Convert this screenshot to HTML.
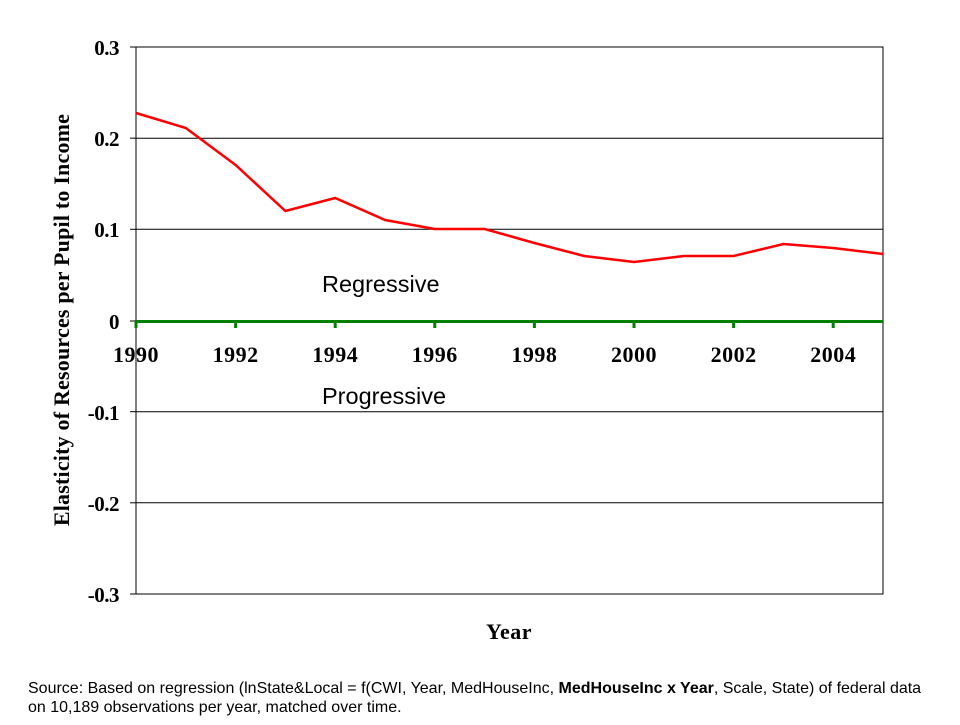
<!DOCTYPE html>
<html><head><style>body{margin:0;background:#fff}</style></head><body>
<svg width="960" height="720" xmlns="http://www.w3.org/2000/svg" font-family="Liberation Serif, serif">
<rect width="960" height="720" fill="#fff"/>
<rect x="136" y="47" width="747" height="547" fill="none" stroke="#000" stroke-width="1"/>
<g stroke="#000" stroke-width="1">
<line x1="136" y1="138.2" x2="883" y2="138.2"/>
<line x1="136" y1="229.3" x2="883" y2="229.3"/>
<line x1="136" y1="411.7" x2="883" y2="411.7"/>
<line x1="136" y1="502.8" x2="883" y2="502.8"/>
<line x1="130" y1="47" x2="136" y2="47"/><line x1="130" y1="138.2" x2="136" y2="138.2"/><line x1="130" y1="229.3" x2="136" y2="229.3"/><line x1="130" y1="321" x2="136" y2="321"/><line x1="130" y1="411.7" x2="136" y2="411.7"/><line x1="130" y1="502.8" x2="136" y2="502.8"/><line x1="130" y1="594" x2="136" y2="594"/>
</g>
<line x1="136" y1="321.5" x2="883" y2="321.5" stroke="#008000" stroke-width="3"/>
<g stroke="#008000" stroke-width="3">
<line x1="136" y1="321" x2="136" y2="328"/><line x1="235.6" y1="321" x2="235.6" y2="328"/><line x1="335.2" y1="321" x2="335.2" y2="328"/><line x1="434.8" y1="321" x2="434.8" y2="328"/><line x1="534.4" y1="321" x2="534.4" y2="328"/><line x1="634" y1="321" x2="634" y2="328"/><line x1="733.6" y1="321" x2="733.6" y2="328"/><line x1="833.2" y1="321" x2="833.2" y2="328"/>
</g>
<polyline fill="none" stroke="#ff0000" stroke-width="2.5" points="136,113 185.8,128 235.6,165 285.4,211 335.2,198 385,220 434.8,229 484.6,229 534.4,243 584.2,256 634,262 683.8,256 733.6,256 783.4,244 833.2,248 883,254"/>
<g font-size="21" font-weight="bold" text-anchor="end" letter-spacing="-0.5">
<text x="119" y="55">0.3</text><text x="119" y="146">0.2</text><text x="119" y="237">0.1</text><text x="119" y="329">0</text><text x="119" y="420">-0.1</text><text x="119" y="511">-0.2</text><text x="119" y="602">-0.3</text>
</g>
<g font-size="22" font-weight="bold" text-anchor="middle" letter-spacing="0.5">
<text x="136" y="362">1990</text><text x="235.6" y="362">1992</text><text x="335.2" y="362">1994</text><text x="434.8" y="362">1996</text><text x="534.4" y="362">1998</text><text x="634" y="362">2000</text><text x="733.6" y="362">2002</text><text x="833.2" y="362">2004</text>
<text x="509" y="639">Year</text>
<text transform="translate(69,320) rotate(-90)" font-size="22" letter-spacing="0.2">Elasticity of Resources per Pupil to Income</text>
</g>
<g font-family="Liberation Sans, sans-serif" font-size="23.5">
<text x="322" y="292">Regressive</text>
<text x="322" y="404">Progressive</text>
</g>
<g font-family="Liberation Sans, sans-serif" font-size="16">
<text x="28" y="693">Source: Based on regression (lnState&amp;Local = f(CWI, Year, MedHouseInc, <tspan font-weight="bold">MedHouseInc x Year</tspan>, Scale, State) of federal data</text>
<text x="28" y="712">on 10,189 observations per year, matched over time.</text>
</g>
</svg>
</body></html>
